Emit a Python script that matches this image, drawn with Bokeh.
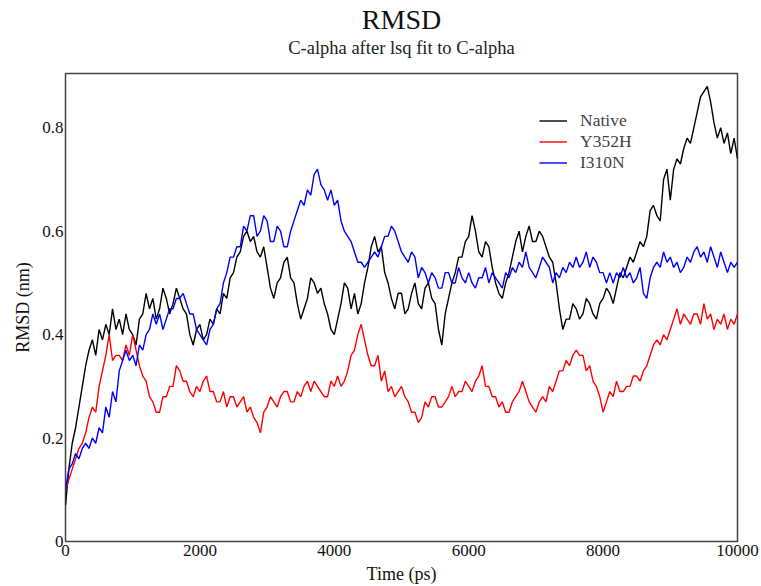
from bokeh.plotting import figure
from bokeh.models import Title, LinearAxis, Range1d, CustomJSTickFormatter, FixedTicker, Legend, LegendItem
from bokeh.embed import file_html
from bokeh.resources import INLINE

step_ps = 50
native = [
    0.07, 0.14, 0.19, 0.22, 0.26, 0.30, 0.34, 0.37, 0.39, 0.36,
    0.41, 0.39, 0.42, 0.40, 0.45, 0.41, 0.43, 0.40, 0.44, 0.41,
    0.40, 0.38, 0.43, 0.44, 0.48, 0.45, 0.47, 0.43, 0.45, 0.49,
    0.47, 0.44, 0.46, 0.49, 0.47, 0.45, 0.44, 0.40, 0.38, 0.41,
    0.42, 0.39, 0.40, 0.43, 0.42, 0.45, 0.44, 0.48, 0.47, 0.51,
    0.52, 0.55, 0.56, 0.59, 0.60, 0.58, 0.59, 0.56, 0.55, 0.57,
    0.53, 0.49, 0.47, 0.50, 0.51, 0.54, 0.55, 0.51, 0.50, 0.46,
    0.43, 0.45, 0.47, 0.51, 0.50, 0.48, 0.49, 0.46, 0.44, 0.41,
    0.40, 0.43, 0.46, 0.50, 0.49, 0.45, 0.48, 0.44, 0.46, 0.50,
    0.53, 0.57, 0.59, 0.56, 0.57, 0.52, 0.50, 0.47, 0.45, 0.48,
    0.48, 0.44, 0.45, 0.48, 0.50, 0.46, 0.45, 0.49, 0.50, 0.47,
    0.46, 0.41, 0.38, 0.44, 0.47, 0.50, 0.52, 0.55, 0.55, 0.58,
    0.59, 0.63, 0.60, 0.56, 0.55, 0.58, 0.57, 0.53, 0.50, 0.48,
    0.47, 0.50, 0.52, 0.55, 0.58, 0.60, 0.56, 0.59, 0.61, 0.58,
    0.58, 0.60, 0.59, 0.57, 0.55, 0.54, 0.50, 0.45, 0.41, 0.43,
    0.43, 0.46, 0.45, 0.43, 0.44, 0.47, 0.46, 0.44, 0.43, 0.46,
    0.47, 0.49, 0.48, 0.46, 0.49, 0.52, 0.51, 0.53, 0.55, 0.54,
    0.56, 0.58, 0.57, 0.59, 0.64, 0.65, 0.63, 0.62, 0.70, 0.72,
    0.66, 0.72, 0.74, 0.73, 0.76, 0.78, 0.77, 0.80, 0.83, 0.86,
    0.87, 0.88, 0.85, 0.81, 0.78, 0.80, 0.77, 0.79, 0.75, 0.78,
    0.74,
]
y352h = [
    0.10, 0.12, 0.14, 0.16, 0.18, 0.19, 0.21, 0.24, 0.26, 0.25,
    0.30, 0.33, 0.36, 0.40, 0.35, 0.36, 0.36, 0.35, 0.38, 0.36,
    0.40, 0.37, 0.34, 0.32, 0.31, 0.28, 0.27, 0.25, 0.25, 0.28,
    0.28, 0.30, 0.30, 0.34, 0.33, 0.31, 0.31, 0.29, 0.28, 0.30,
    0.29, 0.31, 0.32, 0.29, 0.29, 0.27, 0.27, 0.29, 0.26, 0.28,
    0.28, 0.26, 0.27, 0.28, 0.25, 0.26, 0.24, 0.23, 0.21, 0.25,
    0.26, 0.28, 0.27, 0.26, 0.28, 0.29, 0.29, 0.27, 0.27, 0.29,
    0.28, 0.30, 0.31, 0.29, 0.31, 0.30, 0.29, 0.28, 0.28, 0.31,
    0.30, 0.32, 0.30, 0.31, 0.33, 0.36, 0.37, 0.40, 0.42, 0.39,
    0.36, 0.34, 0.34, 0.36, 0.31, 0.33, 0.29, 0.30, 0.28, 0.29,
    0.30, 0.28, 0.27, 0.25, 0.25, 0.23, 0.24, 0.27, 0.26, 0.28,
    0.28, 0.26, 0.26, 0.27, 0.28, 0.30, 0.28, 0.29, 0.29, 0.31,
    0.30, 0.29, 0.31, 0.32, 0.34, 0.30, 0.30, 0.28, 0.28, 0.26,
    0.27, 0.25, 0.25, 0.27, 0.28, 0.29, 0.31, 0.29, 0.27, 0.26,
    0.25, 0.27, 0.28, 0.27, 0.30, 0.29, 0.31, 0.33, 0.33, 0.35,
    0.34, 0.36, 0.37, 0.36, 0.36, 0.33, 0.34, 0.31, 0.30, 0.28,
    0.25, 0.27, 0.29, 0.28, 0.31, 0.29, 0.29, 0.30, 0.30, 0.32,
    0.32, 0.31, 0.33, 0.34, 0.36, 0.38, 0.39, 0.38, 0.40, 0.39,
    0.41, 0.43, 0.45, 0.42, 0.44, 0.43, 0.42, 0.44, 0.44, 0.42,
    0.46, 0.43, 0.44, 0.41, 0.43, 0.42, 0.44, 0.41, 0.43, 0.42,
    0.44,
]
i310n = [
    0.10, 0.14, 0.15, 0.17, 0.16, 0.18, 0.19, 0.18, 0.20, 0.19,
    0.22, 0.21, 0.26, 0.24, 0.29, 0.27, 0.33, 0.35, 0.37, 0.35,
    0.36, 0.34, 0.38, 0.37, 0.40, 0.41, 0.44, 0.42, 0.44, 0.41,
    0.43, 0.45, 0.45, 0.47, 0.47, 0.48, 0.46, 0.44, 0.44, 0.41,
    0.40, 0.39, 0.38, 0.41, 0.42, 0.45, 0.46, 0.50, 0.52, 0.55,
    0.55, 0.57, 0.57, 0.61, 0.60, 0.63, 0.63, 0.59, 0.60, 0.63,
    0.62, 0.58, 0.58, 0.61, 0.60, 0.57, 0.57, 0.60, 0.62, 0.64,
    0.66, 0.65, 0.68, 0.67, 0.71, 0.72, 0.69, 0.68, 0.66, 0.68,
    0.65, 0.66, 0.62, 0.60, 0.59, 0.58, 0.56, 0.54, 0.54, 0.53,
    0.54, 0.55, 0.56, 0.55, 0.57, 0.59, 0.59, 0.61, 0.60, 0.58,
    0.56, 0.55, 0.54, 0.56, 0.55, 0.51, 0.53, 0.52, 0.50, 0.52,
    0.51, 0.49, 0.49, 0.52, 0.52, 0.50, 0.50, 0.53, 0.51, 0.50,
    0.52, 0.50, 0.49, 0.51, 0.51, 0.53, 0.50, 0.52, 0.51, 0.50,
    0.49, 0.52, 0.51, 0.53, 0.52, 0.54, 0.53, 0.56, 0.53, 0.52,
    0.51, 0.53, 0.55, 0.54, 0.53, 0.50, 0.52, 0.51, 0.53, 0.52,
    0.54, 0.53, 0.55, 0.53, 0.54, 0.56, 0.53, 0.55, 0.54, 0.52,
    0.52, 0.50, 0.52, 0.50, 0.52, 0.51, 0.53, 0.51, 0.52, 0.50,
    0.51, 0.53, 0.48, 0.47, 0.51, 0.53, 0.54, 0.53, 0.56, 0.54,
    0.55, 0.53, 0.54, 0.52, 0.53, 0.55, 0.54, 0.56, 0.57, 0.55,
    0.56, 0.54, 0.57, 0.55, 0.53, 0.56, 0.54, 0.52, 0.54, 0.53,
    0.54,
]
time_ps = [i * step_ps for i in range(len(native))]

series_names = ["Native", "Y352H", "I310N"]
series_colors = ["#000000", "#ff0000", "#0000ff"]
x_ticks = [0, 2000, 4000, 6000, 8000, 10000]
y_ticks = [0, 0.2, 0.4, 0.6, 0.8]
title_text = "RMSD"
subtitle_text = "C-alpha after lsq fit to C-alpha"

FONT = "Liberation Serif"

p = figure(frame_width=672, frame_height=468, output_backend="svg", toolbar_location=None,
           x_range=Range1d(0, 10000), y_range=Range1d(0, 0.905),
           min_border_left=65, min_border_right=24, min_border_top=73, min_border_bottom=0)
p.background_fill_color = "white"
p.border_fill_color = "white"
p.outline_line_color = "#444444"
p.outline_line_width = 1.5
p.xgrid.visible = False
p.ygrid.visible = False

bottom_axis = p.below[0]
left_axis = p.left[0]

for ax in (bottom_axis, left_axis):
    ax.axis_line_color = None
    ax.major_tick_line_color = None
    ax.minor_tick_line_color = None
    ax.major_tick_out = 0
    ax.major_tick_in = 0
    ax.minor_tick_out = 0
    ax.minor_tick_in = 0
    ax.major_label_text_font = FONT
    ax.major_label_text_font_size = "17px"
    ax.major_label_text_color = "#111111"
    ax.axis_label_text_font = FONT
    ax.axis_label_text_font_size = "18px"
    ax.axis_label_text_font_style = "normal"
    ax.axis_label_text_color = "#111111"

bottom_axis.ticker = FixedTicker(ticks=x_ticks)
left_axis.ticker = FixedTicker(ticks=y_ticks)
left_axis.formatter = CustomJSTickFormatter(code="return tick == 0 ? '0' : tick.toFixed(1);")
bottom_axis.axis_label = "Time (ps)"
left_axis.axis_label = "RMSD (nm)"
bottom_axis.major_label_standoff = 3
left_axis.major_label_standoff = 2
bottom_axis.axis_label_standoff = 5
left_axis.axis_label_standoff = 6

p.title = Title(text=title_text, align="center", text_font=FONT, text_font_size="28px",
                text_font_style="normal", text_color="#111111", standoff=0)

# subtitle: an empty top axis whose label carries the subtitle text
sub_axis = LinearAxis(ticker=FixedTicker(ticks=[]), axis_label=subtitle_text,
                      axis_line_color=None, major_tick_line_color=None, minor_tick_line_color=None,
                      major_tick_out=0, major_tick_in=0, minor_tick_out=0, minor_tick_in=0,
                      major_label_standoff=0, axis_label_standoff=16,
                      axis_label_text_font=FONT, axis_label_text_font_size="18.5px",
                      axis_label_text_font_style="normal", axis_label_text_color="#222222")
p.add_layout(sub_axis, "above")

renderers = []
for name, ys, col in zip(series_names, [native, y352h, i310n], series_colors):
    r = p.line(time_ps, ys, line_color=col, line_width=1.4)
    renderers.append((name, r))

legend = Legend(items=[LegendItem(label=n, renderers=[r]) for n, r in renderers],
                location=(474, 368), background_fill_alpha=0, border_line_color=None,
                label_text_font=FONT, label_text_font_size="17.5px", glyph_width=28,
                glyph_height=19, label_height=19, spacing=0, padding=0, label_standoff=13,
                margin=0)
p.add_layout(legend)

open("out.html", "w").write(file_html(p, INLINE))
